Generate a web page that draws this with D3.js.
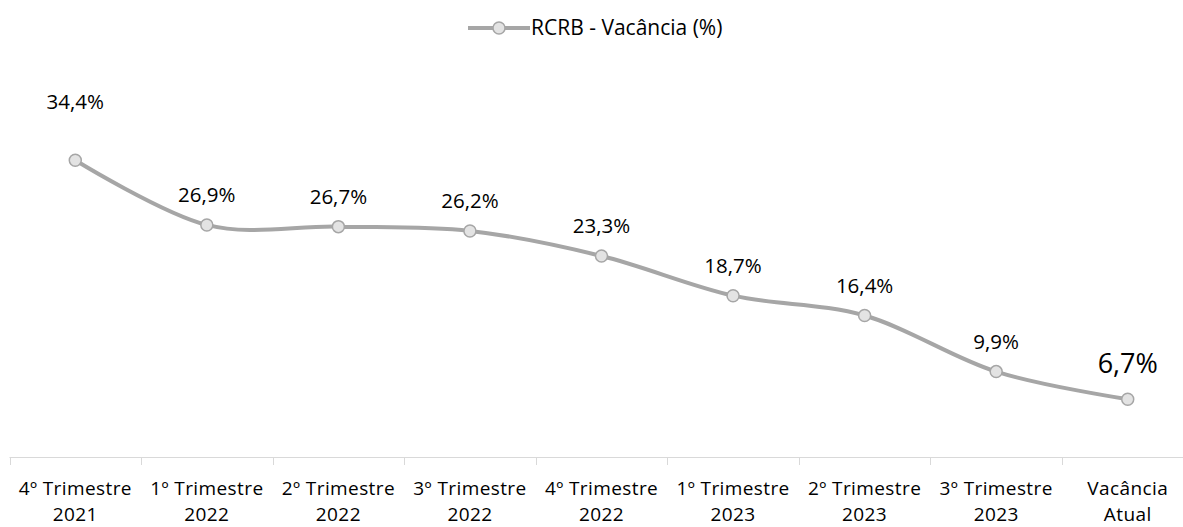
<!DOCTYPE html>
<html><head><meta charset="utf-8">
<script src="https://cdn.jsdelivr.net/npm/d3@7"></script>
<style>body{margin:0;background:#fff;} text{font-family:"Open Sans",sans-serif;fill:#000;}</style>
</head><body><svg id="c" width="1183" height="527"></svg>
<script>
const categories = [["4º Trimestre","2021"],["1º Trimestre","2022"],["2º Trimestre","2022"],["3º Trimestre","2022"],["4º Trimestre","2022"],["1º Trimestre","2023"],["2º Trimestre","2023"],["3º Trimestre","2023"],["Vacância","Atual"]];
const values = [34.4, 26.9, 26.7, 26.2, 23.3, 18.7, 16.4, 9.9, 6.7];
const labels = ["34,4%","26,9%","26,7%","26,2%","23,3%","18,7%","16,4%","9,9%","6,7%"];
const seriesName = "RCRB - Vacância (%)";

const svg = d3.select("#c");
const x = d3.scaleBand().domain(d3.range(categories.length)).range([9.5, 1193.5]);
const y = d3.scaleLinear().domain([0, 40]).range([457, 111.9]);
const cx = i => x(i) + x.bandwidth()/2;

// axis
const g = svg.append("g");
g.append("line").attr("x1",9.5).attr("x2",1183).attr("y1",457.5).attr("y2",457.5).attr("stroke","#D9D9D9").attr("stroke-width",1);
d3.range(categories.length).forEach(i=>{
  const tx = Math.round(x(i))+0.5;
  g.append("line").attr("x1",tx).attr("x2",tx).attr("y1",457).attr("y2",465).attr("stroke","#D9D9D9");
  const t = g.append("text").attr("text-anchor","middle").attr("font-size",19).attr("letter-spacing",0.4);
  t.append("tspan").attr("x",cx(i)).attr("y",495).text(categories[i][0]);
  t.append("tspan").attr("x",cx(i)).attr("y",521).text(categories[i][1]);
});

const line = d3.line().x((d,i)=>cx(i)).y(d=>y(d)).curve(d3.curveCatmullRom.alpha(0));
svg.append("path").datum(values).attr("d",line).attr("fill","none").attr("stroke","#A6A6A6").attr("stroke-width",4).attr("stroke-linecap","round");
svg.selectAll("circle.pt").data(values).enter().append("circle").attr("class","pt")
  .attr("cx",(d,i)=>cx(i)).attr("cy",d=>y(d)).attr("r",6).attr("fill","#E3E3E3").attr("stroke","#A6A6A6").attr("stroke-width",1.5);
svg.selectAll("text.lbl").data(values).enter().append("text").attr("class","lbl")
  .attr("x",(d,i)=>cx(i))
  .attr("y",(d,i)=> i===0 ? y(d)-51 : (i===values.length-1 ? y(d)-26 : y(d)-23))
  .attr("text-anchor","middle")
  .attr("font-size",(d,i)=> i===values.length-1 ? 27 : 20.5)
  .text((d,i)=>labels[i]);

// legend
const lg = svg.append("g");
lg.append("line").attr("x1",468).attr("x2",530).attr("y1",28).attr("y2",28).attr("stroke","#A6A6A6").attr("stroke-width",4);
lg.append("circle").attr("cx",499).attr("cy",28).attr("r",6).attr("fill","#E3E3E3").attr("stroke","#A6A6A6").attr("stroke-width",1.5);
lg.append("text").attr("x",531).attr("y",35).attr("font-size",21).text(seriesName);
</script></body></html>
